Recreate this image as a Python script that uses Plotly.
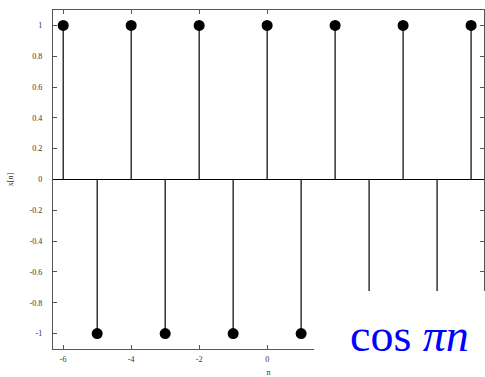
import plotly.graph_objects as go

# discrete-time signal x[n] = cos(pi n)
n_vals = [-6, -5, -4, -3, -2, -1, 0, 1, 2, 3, 4, 5, 6]
x_vals = [1, -1, 1, -1, 1, -1, 1, -1, 1, -1, 1, -1, 1]

x_ticks = [-6, -4, -2, 0]
x_tick_text = ["-6", "-4", "-2", "0"]
y_ticks = [-1, -0.8, -0.6, -0.4, -0.2, 0, 0.2, 0.4, 0.6, 0.8, 1]
y_tick_text = ["-1", "-0.8", "-0.6", "-0.4", "-0.2", "0", "0.2", "0.4", "0.6", "0.8", "1"]

# stems from the zero line to each sample
stem_x, stem_y = [], []
for n, v in zip(n_vals, x_vals):
    stem_x += [n, n, None]
    stem_y += [0, v, None]

fig = go.Figure()
fig.add_trace(go.Scatter(x=stem_x, y=stem_y, mode="lines",
                         line=dict(color="black", width=1.2),
                         hoverinfo="skip", showlegend=False))
fig.add_trace(go.Scatter(x=n_vals, y=x_vals, mode="markers",
                         marker=dict(color="black", size=11),
                         showlegend=False))
fig.add_hline(y=0, line=dict(color="black", width=1.2))

label_font = dict(family="Liberation Serif", size=8, color="#333")
axis_common = dict(
    showgrid=False, zeroline=False, showline=True, mirror="ticks",
    linecolor="#555", linewidth=1.3, ticks="inside", ticklen=4,
    tickcolor="#555", tickwidth=1.2, tickfont=label_font,
)

fig.update_xaxes(range=[-6.3, 6.38], tickvals=x_ticks, ticktext=x_tick_text,
                 ticklabelstandoff=2,
                 title=dict(text="n", font=label_font, standoff=8),
                 **axis_common)
fig.update_yaxes(range=[-1.1, 1.1], tickvals=y_ticks, ticktext=y_tick_text,
                 ticklabelstandoff=8,
                 title=dict(text="x[n]", font=label_font, standoff=14),
                 **axis_common)

# white panel with the formula in the lower right
fig.add_shape(type="rect", xref="paper", yref="paper",
              x0=0.606, x1=1.05, y0=-0.2, y1=0.171,
              fillcolor="white", line=dict(width=0), layer="above")
fig.add_annotation(xref="paper", yref="paper", x=0.826, y=0.04,
                   text="cos <i>πn</i>", showarrow=False,
                   font=dict(family="Liberation Serif", size=46, color="#0000ff"),
                   xanchor="center", yanchor="middle")

fig.update_layout(
    width=485, height=377,
    margin=dict(l=53, r=1, t=10, b=28),
    paper_bgcolor="white", plot_bgcolor="white",
)

fig.write_html("out.html")
